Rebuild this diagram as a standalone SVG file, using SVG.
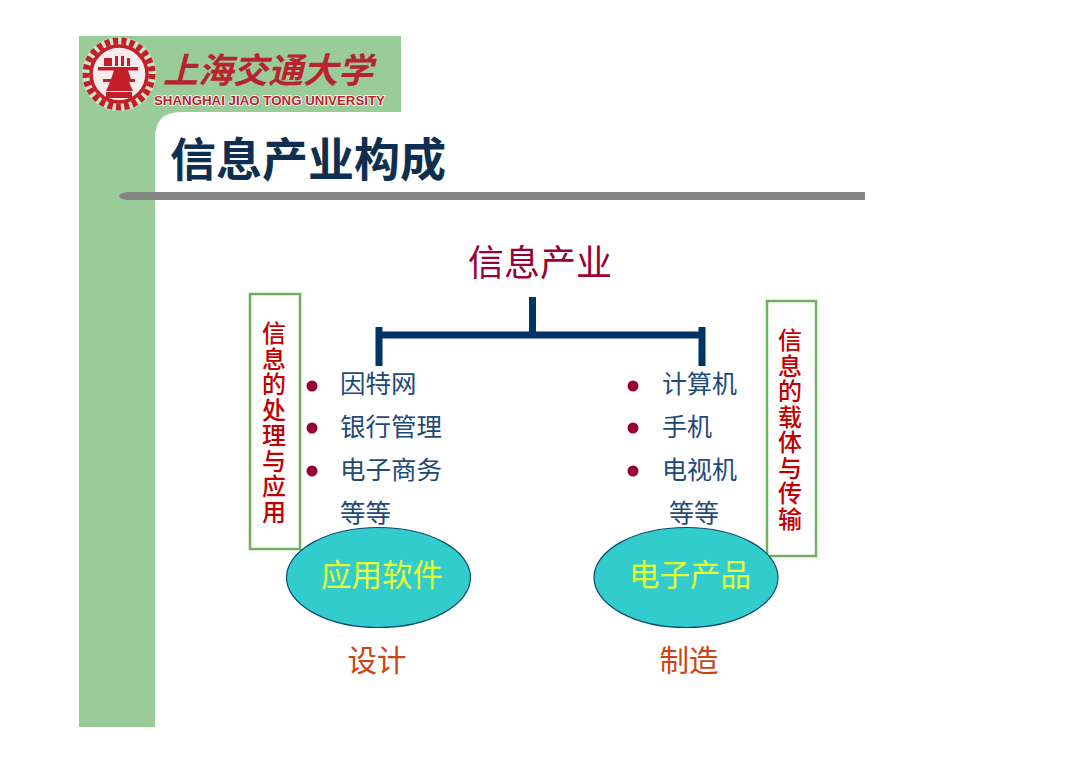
<svg xmlns="http://www.w3.org/2000/svg" width="1080" height="763" viewBox="0 0 1080 763">
<style>
text{font-family:"Noto Sans CJK SC","Liberation Sans",sans-serif}
.item{font-size:25.500px;fill:#1f4a78}
.itemr{font-size:25px;fill:#1f4a78}
.vert{font-size:24px;fill:#c00000;font-weight:500;writing-mode:vertical-rl;letter-spacing:1.500px}
.box{fill:#fff;stroke:#6fb060;stroke-width:2.500}
.ell{fill:#33cccc;stroke:#0b4a70;stroke-width:1.200}
.ellt{font-size:30.500px;fill:#e6ff33;text-anchor:middle}
.cap{font-size:29.500px;fill:#cc4411;text-anchor:middle}
.dot{fill:#990033}
.bar{fill:none;stroke:#003366;stroke-width:7}
</style>
<rect width="1080" height="763" fill="#fff"/>
<g id="frame">
<path fill="#99cc99" d="M79 36H401V112H181Q155 112 155 138V727H79Z"/>
<path fill="#858585" d="M128 192H865V200H128Q119 199 119 196Q119 193 128 192Z"/>
</g>
<g id="logo">
<circle cx="119" cy="74" r="37" fill="#fff" opacity="0.5"/>
<circle cx="119" cy="74" r="33" fill="none" stroke="#c41e2a" stroke-width="7" stroke-dasharray="5 3.300"/>
<circle cx="119" cy="74" r="28" fill="#f7ecec" stroke="#c41e2a" stroke-width="3.500"/>
<path fill="#c41e2a" d="M104 58H112V66H104ZM115 56H118V66H115ZM121 56H124V66H121ZM127 58H130V66H127ZM98 67H138V70.500H128L131 79H135V82H129L133 91H106L110 82H103V79H111L114 70.500H98Z"/>
<rect x="106" y="92" width="26" height="6" fill="#c41e2a"/>
<text x="163" y="83" font-size="35" font-weight="700" fill="#b8232f" font-style="italic">上海交通大学</text>
<text x="154" y="105" font-size="12.500" font-weight="700" fill="#b8232f" stroke="#fff" stroke-width="1.500" paint-order="stroke" textLength="231" lengthAdjust="spacingAndGlyphs" style="font-family:'Liberation Sans',sans-serif">SHANGHAI JIAO TONG UNIVERSITY</text>
</g>
<text id="title" x="170" y="176" font-size="46" font-weight="700" fill="#0f2f50" textLength="276">信息产业构成</text>
<text id="root" x="540" y="276" font-size="36" fill="#990033" text-anchor="middle">信息产业</text>
<g id="connectors">
<path class="bar" d="M532.500 297V335M379 335H702M379 327V366M702 327V366"/>
</g>
<g id="left-box"><rect class="box" x="250" y="294" width="50" height="255"/>
<text class="vert" x="274" y="321">信息的处理与应用</text></g>
<g id="right-box"><rect class="box" x="767" y="301" width="49" height="255"/>
<text class="vert" x="790" y="328">信息的载体与传输</text></g>
<g id="left-list">
<circle class="dot" cx="312" cy="386" r="5.500"/><circle class="dot" cx="312" cy="428" r="5.500"/><circle class="dot" cx="312" cy="471" r="5.500"/>
<text class="item" x="340" y="393">因特网</text><text class="item" x="340" y="436">银行管理</text><text class="item" x="340" y="479">电子商务</text><text class="item" x="340" y="522">等等</text>
</g>
<g id="right-list">
<circle class="dot" cx="633" cy="386" r="5.500"/><circle class="dot" cx="633" cy="428" r="5.500"/><circle class="dot" cx="633" cy="471" r="5.500"/>
<text class="itemr" x="662" y="393">计算机</text><text class="itemr" x="662" y="436">手机</text><text class="itemr" x="662" y="479">电视机</text><text class="itemr" x="669" y="522">等等</text>
</g>
<g id="node-software"><ellipse class="ell" cx="378.500" cy="577.500" rx="92" ry="50"/><text class="ellt" x="382" y="586">应用软件</text></g>
<g id="node-electronics"><ellipse class="ell" cx="686" cy="577.500" rx="92" ry="50"/><text class="ellt" x="690" y="586">电子产品</text></g>
<text id="cap-design" class="cap" x="377" y="671">设计</text>
<text id="cap-make" class="cap" x="689" y="671">制造</text>
</svg>
